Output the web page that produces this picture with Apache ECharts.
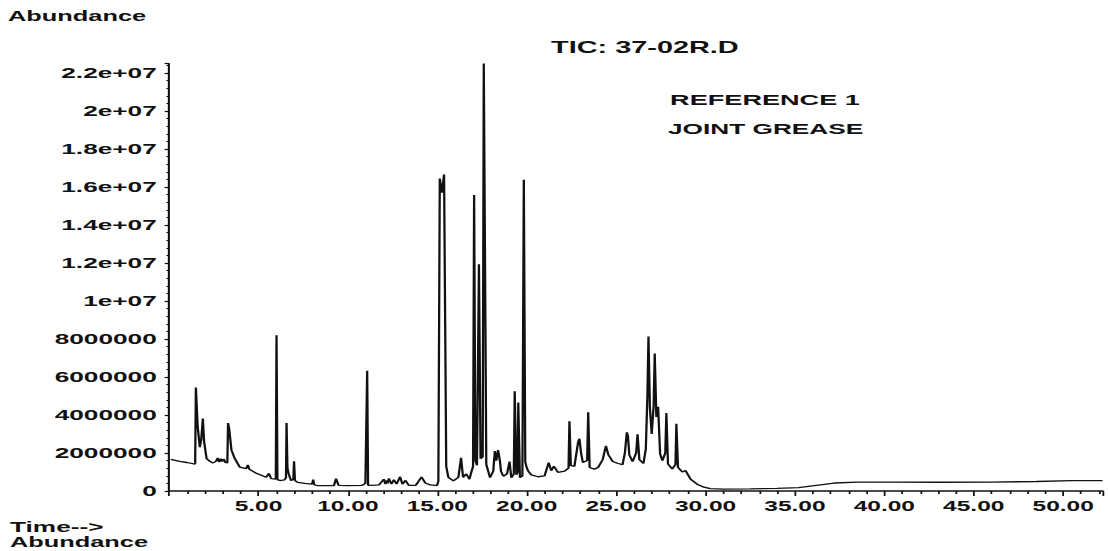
<!DOCTYPE html>
<html>
<head>
<meta charset="utf-8">
<script src="https://cdn.jsdelivr.net/npm/echarts@6/dist/echarts.min.js"></script>
<style>
  html, body { margin: 0; padding: 0; background: #fff; overflow: hidden; }
  #wrap { position: absolute; left: 0; top: 0; width: 1108px; height: 551px; overflow: hidden; background: #fff; }
  #c { width: 633.14px; height: 551px; transform: scaleX(1.75); transform-origin: 0 0; }
</style>
</head>
<body>
<div id="wrap"><div id="c"></div></div>
<script>
// Retention time (min)
const timeMin = [
  0.10, 0.60, 1.00, 1.46, 1.50, 1.60, 1.72, 1.80, 1.89, 1.96,
  2.10, 2.30, 2.46, 2.62, 2.72, 2.80, 2.89, 2.97, 3.06, 3.15,
  3.26, 3.30, 3.36, 3.49, 3.67, 3.95, 4.32, 4.40, 4.50, 4.88,
  5.43, 5.58, 5.71, 5.97, 6.01, 6.06, 6.20, 6.45, 6.54, 6.57,
  6.62, 6.69, 6.82, 6.95, 6.99, 7.04, 7.20, 7.60, 8.00, 8.06,
  8.12, 8.30, 9.22, 9.34, 9.48, 10.00, 10.80, 10.98, 11.08, 11.13,
  11.30, 11.74, 12.01, 12.10, 12.18, 12.23, 12.29, 12.44, 12.57, 12.72,
  12.92, 13.05, 13.22, 13.40, 13.80, 14.12, 14.33, 14.61, 14.98, 15.06,
  15.14, 15.25, 15.38, 15.50, 15.62, 15.90, 16.18, 16.33, 16.44, 16.62,
  16.80, 16.92, 17.00, 17.06, 17.13, 17.22, 17.33, 17.42, 17.54, 17.60,
  17.66, 17.74, 17.95, 18.13, 18.22, 18.30, 18.40, 18.50, 18.56, 18.69,
  18.90, 19.04, 19.14, 19.28, 19.33, 19.42, 19.49, 19.53, 19.62, 19.76,
  19.84, 19.92, 19.98, 20.08, 20.26, 20.63, 21.00, 21.23, 21.37, 21.52,
  21.75, 22.12, 22.34, 22.39, 22.47, 22.67, 22.88, 22.95, 23.04, 23.14,
  23.38, 23.44, 23.52, 23.79, 24.00, 24.25, 24.43, 24.57, 24.81, 25.08,
  25.36, 25.49, 25.60, 25.66, 25.74, 25.92, 26.12, 26.20, 26.30, 26.53,
  26.66, 26.75, 26.81, 26.89, 26.99, 27.10, 27.16, 27.25, 27.35, 27.46,
  27.59, 27.75, 27.81, 27.90, 28.14, 28.32, 28.37, 28.46, 28.70, 28.88,
  29.16, 29.53, 29.91, 30.27, 31.00, 32.50, 34.00, 35.20, 36.20, 37.20,
  38.50, 40.50, 43.00, 46.00, 48.50, 50.50, 52.20
];
// Abundance in millions
const abundanceM = [
  1.66, 1.56, 1.50, 1.42, 5.45, 3.40, 2.30, 2.70, 3.82, 2.60,
  1.70, 1.55, 1.48, 1.56, 1.74, 1.52, 1.70, 1.55, 1.68, 1.50,
  1.48, 3.58, 3.30, 2.15, 1.72, 1.26, 1.18, 1.38, 1.14, 0.93,
  0.72, 0.92, 0.65, 0.63, 8.20, 0.60, 0.55, 0.58, 0.70, 3.58,
  1.20, 0.90, 0.55, 0.62, 1.56, 0.55, 0.45, 0.40, 0.36, 0.60,
  0.33, 0.28, 0.28, 0.65, 0.30, 0.28, 0.30, 0.40, 6.33, 0.30,
  0.30, 0.32, 0.62, 0.36, 0.56, 0.40, 0.66, 0.36, 0.60, 0.36,
  0.75, 0.36, 0.56, 0.30, 0.30, 0.74, 0.42, 0.32, 0.28, 0.50,
  16.45, 15.70, 16.66, 1.30, 0.72, 0.53, 0.72, 1.75, 0.72, 0.90,
  0.62, 1.05, 1.30, 15.58, 1.60, 1.35, 11.94, 1.70, 1.80, 22.50,
  22.50, 1.40, 0.70, 1.05, 2.10, 1.60, 2.15, 1.60, 1.05, 0.78,
  0.90, 1.55, 0.70, 0.90, 5.25, 0.85, 1.00, 4.66, 0.70, 0.80,
  16.38, 1.55, 1.30, 1.05, 0.85, 0.75, 0.80, 1.50, 1.07, 1.30,
  0.98, 1.05, 1.20, 3.67, 1.33, 1.30, 2.60, 2.75, 2.00, 1.50,
  1.60, 4.14, 1.24, 1.15, 1.25, 1.65, 2.38, 1.90, 1.55, 1.46,
  1.38, 2.00, 3.09, 2.90, 1.90, 1.55, 2.00, 2.99, 1.65, 1.45,
  2.20, 5.00, 8.13, 4.40, 3.00, 4.50, 7.24, 3.90, 4.43, 1.95,
  1.60, 2.00, 4.10, 1.42, 1.16, 1.40, 3.54, 1.25, 1.00, 1.08,
  0.63, 0.36, 0.20, 0.12, 0.10, 0.11, 0.14, 0.18, 0.30, 0.42,
  0.47, 0.47, 0.46, 0.47, 0.50, 0.55, 0.55
];
const yTickValues = [0, 2, 4, 6, 8, 10, 12, 14, 16, 18, 20, 22];
const yTickLabels = ['0', '2000000', '4000000', '6000000', '8000000', '1e+07',
  '1.2e+07', '1.4e+07', '1.6e+07', '1.8e+07', '2e+07', '2.2e+07'];
const xTickValues = [5, 10, 15, 20, 25, 30, 35, 40, 45, 50];
const xTickLabels = ['5.00', '10.00', '15.00', '20.00', '25.00', '30.00', '35.00', '40.00', '45.00', '50.00'];

const seriesData = timeMin.map((t, i) => [t, abundanceM[i]]);
const ink = '#111';
const FONT = '"Liberation Sans", Arial, sans-serif';

const chart = echarts.init(document.getElementById('c'), null, { renderer: 'svg' });
chart.setOption({
  animation: false,
  backgroundColor: '#fff',
  grid: { left: 96.6, right: 0, top: 63.5, bottom: 60 },
  xAxis: {
    type: 'value', min: 0, max: 52.2, interval: 5,
    axisLine: { show: true, lineStyle: { color: ink, width: 1.5 } },
    axisTick: { show: true, length: 5, lineStyle: { color: ink, width: 1 } },
    minorTick: { show: true, splitNumber: 5, length: 3, lineStyle: { color: ink, width: 1 } },
    splitLine: { show: false },
    axisLabel: {
      margin: 8, color: ink, fontFamily: FONT, fontWeight: 'bold', fontSize: 14,
      formatter: v => { const i = xTickValues.indexOf(Math.round(v * 1000) / 1000); return i >= 0 ? xTickLabels[i] : ''; }
    }
  },
  yAxis: {
    type: 'value', min: 0, max: 22.5, interval: 2,
    axisLine: { show: true, lineStyle: { color: ink, width: 1.2 } },
    axisTick: { show: true, length: 2.5, lineStyle: { color: ink, width: 1.2 } },
    minorTick: { show: true, splitNumber: 5, length: 1.5, lineStyle: { color: ink, width: 1 } },
    splitLine: { show: false },
    axisLabel: {
      margin: 7, color: ink, fontFamily: FONT, fontWeight: 'bold', fontSize: 15,
      formatter: v => { const i = yTickValues.indexOf(Math.round(v * 1000) / 1000); return i >= 0 ? yTickLabels[i] : ''; }
    }
  },
  series: [{
    type: 'line', data: seriesData, showSymbol: false, symbol: 'none',
    lineStyle: { color: ink, width: 1.3 }, clip: true
  }],
  graphic: [
    { type: 'text', x: 4.6, y: 16, style: { text: 'Abundance', fill: ink, font: 'bold 14.5px ' + FONT, verticalAlign: 'middle' } },
    { type: 'text', x: 314.9, y: 47, style: { text: 'TIC: 37-02R.D', fill: ink, font: 'bold 16.5px ' + FONT, verticalAlign: 'middle' } },
    { type: 'text', x: 382.9, y: 100, style: { text: 'REFERENCE 1', fill: ink, font: 'bold 15.5px ' + FONT, verticalAlign: 'middle' } },
    { type: 'text', x: 381.7, y: 129, style: { text: 'JOINT GREASE', fill: ink, font: 'bold 15px ' + FONT, verticalAlign: 'middle' } },
    { type: 'text', x: 5.7, y: 527, style: { text: 'Time-->', fill: ink, font: 'bold 15px ' + FONT, verticalAlign: 'middle' } },
    { type: 'text', x: 5.7, y: 542, style: { text: 'Abundance', fill: ink, font: 'bold 14.5px ' + FONT, verticalAlign: 'middle' } }
  ]
});
</script>
</body>
</html>
